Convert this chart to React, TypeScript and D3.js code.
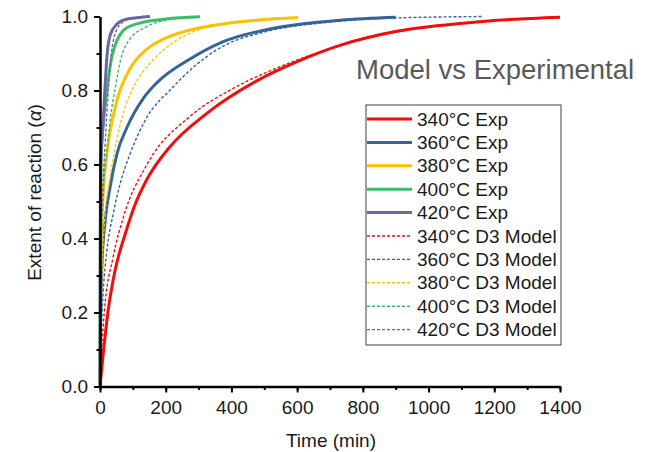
import * as d3 from "d3";
import { useRef, useEffect } from "react";

// time (min), extent of reaction
const exp340: [number, number][] = [[0,0],[10,0.09],[24,0.2],[45,0.31],[76,0.41],[106,0.49],[143,0.56],[213,0.648],[325,0.738],[477,0.826],[600,0.878],[730,0.922],[903,0.96],[1105,0.982],[1250,0.992],[1400,0.998]];
const exp360: [number, number][] = [[0,0],[2,0.2],[6,0.33],[16,0.45],[31,0.54],[52,0.63],[82,0.7],[133,0.78],[172,0.82],[274,0.885],[375,0.932],[528,0.968],[730,0.99],[900,0.998]];
const exp380: [number, number][] = [[0,0],[2,0.3],[6,0.45],[11,0.54],[21,0.63],[31,0.69],[52,0.775],[92,0.86],[138,0.908],[223,0.95],[300,0.969],[375,0.98],[480,0.99],[603,0.997]];
const exp400: [number, number][] = [[0,0],[1,0.4],[3,0.6],[7,0.68],[10,0.71],[21,0.8],[36,0.89],[72,0.963],[112,0.98],[200,0.993],[304,0.999]];
const exp420: [number, number][] = [[0,0],[1,0.5],[3,0.62],[7,0.68],[11,0.74],[16,0.82],[21,0.89],[31,0.95],[52,0.98],[80,0.993],[116,0.997],[152,1.0]];

const mod340: [number, number][] = [[0,0],[5,0.1],[13,0.2],[40,0.35],[72,0.46],[143,0.6],[274,0.73],[400,0.803],[550,0.865],[700,0.913],[900,0.958],[1100,0.982],[1400,0.997]];
const mod360: [number, number][] = [[0,0],[4,0.15],[10,0.26],[20,0.36],[41,0.47],[62,0.55],[92,0.63],[138,0.72],[223,0.81],[274,0.855],[375,0.92],[500,0.958],[700,0.985],[900,0.996],[1165,1.0]];
const mod380: [number, number][] = [[0,0],[4,0.25],[16,0.47],[26,0.54],[41,0.62],[62,0.71],[92,0.79],[122,0.84],[170,0.89],[223,0.93],[274,0.955],[375,0.98],[480,0.992],[603,0.998]];
const mod400: [number, number][] = [[0,0],[3,0.3],[11,0.54],[21,0.63],[31,0.72],[47,0.81],[62,0.88],[92,0.94],[137,0.97],[200,0.99],[304,0.998]];
const mod420: [number, number][] = [[0,0],[2,0.3],[8,0.52],[16,0.66],[21,0.74],[26,0.81],[31,0.87],[47,0.955],[70,0.985],[100,0.995],[152,0.999]];

const temps = ["340", "360", "380", "400", "420"];
const colors = ["#f20d0d", "#34649c", "#ffc000", "#3dbb6b", "#6b669f"];
const expData = [exp340, exp360, exp380, exp400, exp420];
const modData = [mod340, mod360, mod380, mod400, mod420];

const xTicks = d3.range(0, 1401, 200);
const xMinor = d3.range(0, 1401, 100);
const yTicks = d3.range(0, 1.01, 0.2);
const yMinor = d3.range(0, 1.01, 0.1);

const font = "'Liberation Sans', Arial, sans-serif";

export default function App() {
  const width = 661;
  const height = 452;
  const gx = useRef<SVGGElement>(null);
  const gxm = useRef<SVGGElement>(null);
  const gy = useRef<SVGGElement>(null);
  const gym = useRef<SVGGElement>(null);

  const x = d3.scaleLinear([0, 1400], [100, 560]);
  const y = d3.scaleLinear([0, 1], [386.5, 16.5]);
  const line = d3
    .line<[number, number]>()
    .x((d) => x(d[0]))
    .y((d) => y(d[1]))
    .curve(d3.curveMonotoneX);

  useEffect(() => {
    d3.select(gxm.current)
      .call(d3.axisBottom(x).tickValues(xMinor).tickSize(3.5).tickSizeOuter(0).tickFormat(() => ""))
      .call((g) => g.select(".domain").remove())
      .call((g) => g.selectAll("line").attr("stroke-width", 2));
    d3.select(gx.current)
      .call(d3.axisBottom(x).tickValues(xTicks).tickSize(6).tickSizeOuter(0).tickPadding(8).tickFormat(d3.format("d")))
      .call((g) => g.select(".domain").attr("stroke-width", 2.5))
      .call((g) => g.selectAll("line").attr("stroke-width", 2))
      .call((g) => g.selectAll("text").attr("font-size", 19).attr("font-family", font).attr("fill", "#1a1a1a"));
    d3.select(gym.current)
      .call(d3.axisLeft(y).tickValues(yMinor).tickSize(3.5).tickSizeOuter(0).tickFormat(() => ""))
      .call((g) => g.select(".domain").remove())
      .call((g) => g.selectAll("line").attr("stroke-width", 2));
    d3.select(gy.current)
      .call(d3.axisLeft(y).tickValues(yTicks).tickSize(6).tickSizeOuter(0).tickPadding(6).tickFormat(d3.format(".1f")))
      .call((g) => g.select(".domain").attr("stroke-width", 2.5))
      .call((g) => g.selectAll("line").attr("stroke-width", 2))
      .call((g) => g.selectAll("text").attr("font-size", 19).attr("font-family", font).attr("fill", "#1a1a1a"));
  }, []);

  const legendY = (i: number) => 119 + i * 23.4;

  return (
    <svg width={width} height={height} style={{ position: "absolute", left: 0, top: 0, background: "#fff" }}>
      <g>
        {expData.map((d, i) => (
          <path key={"e" + i} d={line(d) ?? ""} fill="none" stroke={colors[i]} strokeWidth={3} />
        ))}
        {modData.map((d, i) => (
          <path key={"m" + i} d={line(d) ?? ""} fill="none" stroke={colors[i]} strokeWidth={1.4} strokeDasharray="3,2" />
        ))}
      </g>
      <g ref={gxm} transform="translate(0,386.5)" />
      <g ref={gym} transform="translate(100,0)" />
      <g ref={gx} transform="translate(0,386.5)" />
      <g ref={gy} transform="translate(100,0)" />

      <text x={331} y={447} textAnchor="middle" fontSize={19} fontFamily={font} fill="#1a1a1a">
        Time (min)
      </text>
      <text transform="translate(41,192.5) rotate(-90)" textAnchor="middle" fontSize={19} fontFamily={font} fill="#1a1a1a">
        Extent of reaction (<tspan fontStyle="italic">α</tspan>)
      </text>

      <text x={356} y={79} fontSize={27.5} fontFamily={font} fill="#595959">
        Model vs Experimental
      </text>

      <rect x={366} y={105} width={195} height={240} fill="#fff" stroke="#404040" strokeWidth={1} />
      {temps.map((t, i) => (
        <g key={"le" + i}>
          <line x1={367} x2={412} y1={legendY(i)} y2={legendY(i)} stroke={colors[i]} strokeWidth={3} />
          <text x={417} y={legendY(i)} dy="0.35em" fontSize={19} fontFamily={font} fill="#1a1a1a">
            {t}°C Exp
          </text>
        </g>
      ))}
      {temps.map((t, i) => (
        <g key={"lm" + i}>
          <line x1={367} x2={412} y1={legendY(i + 5)} y2={legendY(i + 5)} stroke={colors[i]} strokeWidth={1.4} strokeDasharray="3,2" />
          <text x={417} y={legendY(i + 5)} dy="0.35em" fontSize={19} fontFamily={font} fill="#1a1a1a">
            {t}°C D3 Model
          </text>
        </g>
      ))}
    </svg>
  );
}
